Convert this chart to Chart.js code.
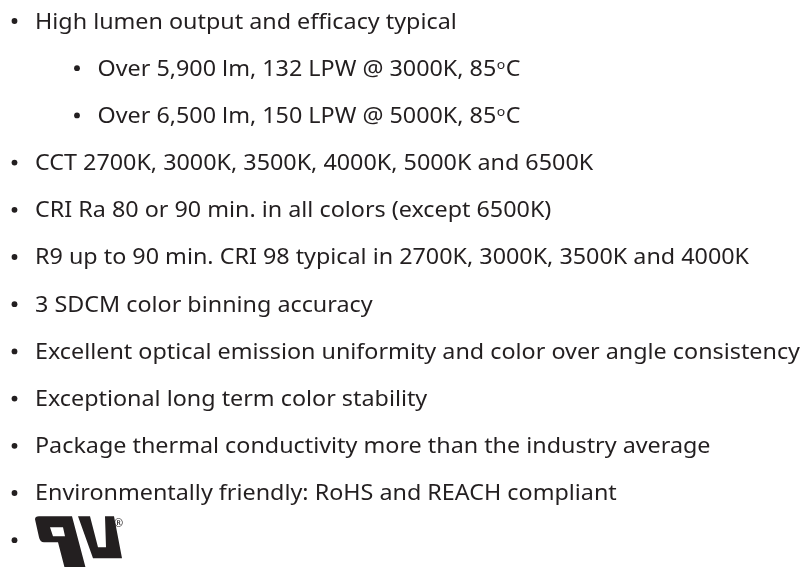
<!DOCTYPE html>
<html lang="en">
<head>
    <meta charset="UTF-8">
    <title>Features</title>
    <script src="https://cdn.jsdelivr.net/npm/chart.js"></script>
    <style>
        html, body { margin: 0; padding: 0; background: #fff; }
        .chart-wrapper { width: 808px; height: 567px; }
    </style>
</head>
<body>
    <div class="chart-wrapper">
        <canvas id="featureChart"></canvas>
    </div>

    <script>
        // bullet items, top to bottom (last one is the UL mark)
        const items = [
            'High lumen output and efficacy typical',
            'Over 5,900 lm, 132 LPW @ 3000K, 85ºC',
            'Over 6,500 lm, 150 LPW @ 5000K, 85ºC',
            'CCT 2700K, 3000K, 3500K, 4000K, 5000K and 6500K',
            'CRI Ra 80 or 90 min. in all colors (except 6500K)',
            'R9 up to 90 min. CRI 98 typical in 2700K, 3000K, 3500K and 4000K',
            '3 SDCM color binning accuracy',
            'Excellent optical emission uniformity and color over angle consistency',
            'Exceptional long term color stability',
            'Package thermal conductivity more than the industry average',
            'Environmentally friendly: RoHS and REACH compliant',
            ''
        ];
        // indent level of each bullet
        const levels = [0, 1, 1, 0, 0, 0, 0, 0, 0, 0, 0, 0];
        const rows = items.map((t, i) => i);

        const textColor = '#231f20';
        const fontFamily = '"Noto Sans", "Open Sans", sans-serif';
        const fontSize = 22;

        // horizontal stretch so the longest line is as wide as in the picture
        function fitScale(ctx) {
            ctx.font = fontSize + 'px ' + fontFamily;
            return 765 / ctx.measureText(items[7]).width;
        }

        function drawLine(ctx, text, x, y, sx) {
            ctx.save();
            ctx.translate(x, y);
            ctx.scale(sx, 1);
            const parts = text.split('º');
            let cx = 0;
            parts.forEach((p, i) => {
                ctx.font = fontSize + 'px ' + fontFamily;
                ctx.fillText(p, cx, 0);
                cx += ctx.measureText(p).width;
                if (i < parts.length - 1) {
                    ctx.font = (fontSize * 0.6) + 'px ' + fontFamily;
                    ctx.fillText('o', cx + 0.5, -fontSize * 0.3);
                    cx += ctx.measureText('o').width + 1;
                }
            });
            ctx.restore();
        }

        function drawULMark(ctx, x, y) {
            ctx.save();
            ctx.translate(x, y);
            ctx.fillStyle = textColor;
            // left glyph
            ctx.beginPath();
            ctx.moveTo(0, 4);
            ctx.quadraticCurveTo(0, 1, 4, 1);
            ctx.lineTo(37, 1);
            ctx.lineTo(51, 54);
            ctx.lineTo(30, 54);
            ctx.lineTo(23, 27);
            ctx.lineTo(9, 27);
            ctx.quadraticCurveTo(5, 27, 4, 22);
            ctx.closePath();
            ctx.moveTo(15, 12);
            ctx.lineTo(18, 21);
            ctx.lineTo(30, 21);
            ctx.lineTo(28, 12);
            ctx.closePath();
            ctx.fill('evenodd');
            // right glyph
            ctx.beginPath();
            ctx.moveTo(43, 1);
            ctx.lineTo(55, 1);
            ctx.lineTo(63, 32);
            ctx.lineTo(71, 32);
            ctx.lineTo(70, 1);
            ctx.lineTo(79, 1);
            ctx.lineTo(87, 43);
            ctx.lineTo(58, 43);
            ctx.closePath();
            ctx.fill();
            // registered mark
            ctx.font = '11px ' + fontFamily;
            ctx.fillText('®', 79, 12);
            ctx.restore();
        }

        const labelPlugin = {
            id: 'bulletLabels',
            afterDatasetsDraw(chart) {
                const ctx = chart.ctx;
                const meta = chart.getDatasetMeta(0);
                const sx = fitScale(ctx);
                ctx.save();
                ctx.fillStyle = textColor;
                ctx.textBaseline = 'alphabetic';
                ctx.textAlign = 'left';
                meta.data.forEach((pt, i) => {
                    if (items[i]) {
                        drawLine(ctx, items[i], pt.x + 20.5, pt.y + 7.5, sx);
                    } else {
                        drawULMark(ctx, pt.x + 20.5, pt.y - 25);
                    }
                });
                ctx.restore();
            }
        };

        window.onload = function() {
            new Chart(document.getElementById('featureChart'), {
                type: 'scatter',
                data: {
                    datasets: [{
                        data: rows.map(r => ({ x: levels[r], y: r })),
                        pointRadius: 2.9,
                        pointBackgroundColor: textColor,
                        pointBorderWidth: 0
                    }]
                },
                options: {
                    responsive: true,
                    maintainAspectRatio: false,
                    animation: false,
                    layout: { padding: 0, autoPadding: false },
                    plugins: {
                        legend: { display: false },
                        tooltip: { enabled: false }
                    },
                    scales: {
                        x: { type: 'linear', display: false, min: -0.232, max: 12.696 },
                        y: { type: 'linear', display: false, reverse: true, min: -0.445, max: 11.568 }
                    }
                },
                plugins: [labelPlugin]
            });
        };
    </script>
</body>
</html>
